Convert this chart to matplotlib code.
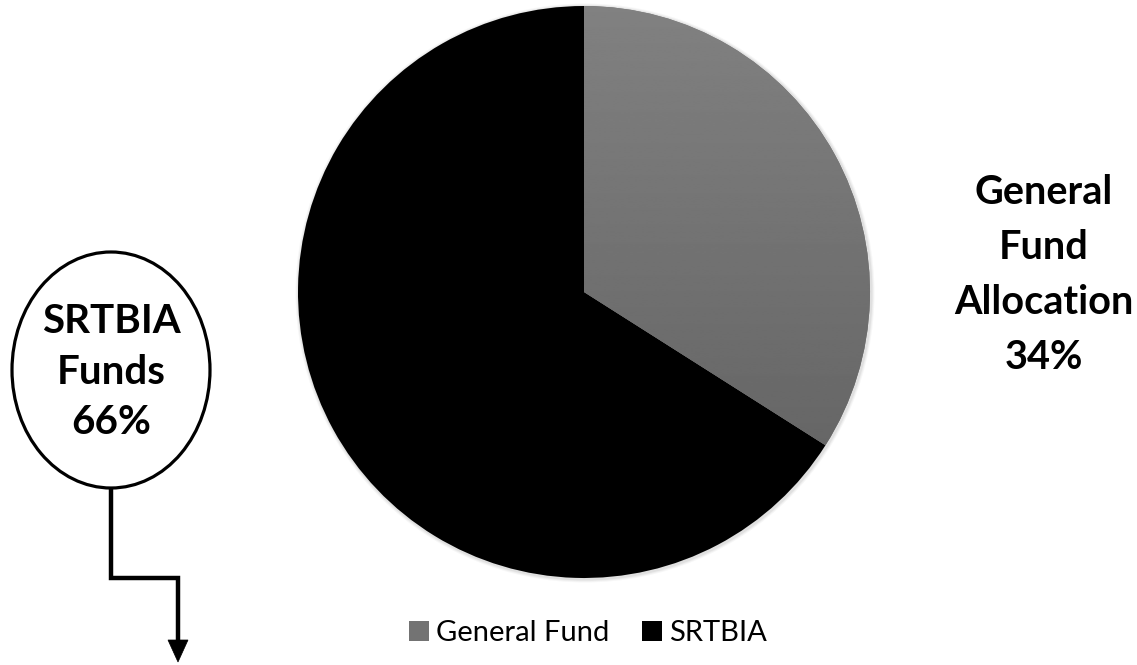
import matplotlib

matplotlib.use("Agg")
import matplotlib.pyplot as plt
import numpy as np
from matplotlib.patches import Ellipse, Patch, Polygon

plt.rcParams["font.family"] = ["Lato", "DejaVu Sans"]

labels = ["General Fund", "SRTBIA"]
shares = [34, 66]
colors = ["#737373", "#000000"]

W, H = 1137, 665
fig = plt.figure(figsize=(W / 100, H / 100), dpi=100)
ax = fig.add_axes([0, 0, 1, 1])


def py(y):
    # pixel row (from top) -> data y
    return H - y


cx, cy, r = 584, py(292), 286

# faint shadow ring behind the pie
for k, a in enumerate([0.05, 0.04, 0.03]):
    ax.add_patch(plt.Circle((cx + 1, cy - 1), r + 1.5 + k, color="black", alpha=a, lw=0, zorder=0))

wedges, _ = ax.pie(shares, colors=colors, startangle=90, counterclock=False,
                   center=(cx, cy), radius=r, frame=True,
                   wedgeprops=dict(linewidth=0))

# vertical gradient on the General Fund slice
grad = np.linspace(0.505, 0.37, 256).reshape(-1, 1)
img = ax.imshow(grad, cmap="gray", vmin=0, vmax=1, aspect="auto",
                extent=(cx - r, cx + r, cy - r, cy + r), origin="upper", zorder=2)
img.set_clip_path(wedges[0])

ax.set_xlim(0, W)
ax.set_ylim(0, H)
ax.set_aspect("equal")
ax.axis("off")

# right label
ax.text(1044, py(275), f"General\nFund\nAllocation\n{shares[0]}%", ha="center", va="center",
        fontsize=28.5, fontweight="bold", linespacing=1.6, color="black")

# left callout ellipse
ex, ey = 111, py(370)
ax.add_patch(Ellipse((ex, ey), 198, 236, facecolor="white", edgecolor="black", lw=2.3, zorder=3))
ax.text(ex, ey - 2, f"SRTBIA\nFunds\n{shares[1]}%", ha="center", va="center",
        fontsize=29, fontweight="bold", linespacing=1.45, color="black", zorder=4)

# elbow arrow
ax.plot([111, 111, 178, 178], [py(488), py(578), py(578), py(642)], color="black",
        lw=3.2, solid_joinstyle="miter", solid_capstyle="butt", zorder=3)
ax.add_patch(Polygon([(168, py(640)), (188, py(640)), (178, py(662))], closed=True,
                     facecolor="black", edgecolor="black", lw=0.5, zorder=3))

handles = [Patch(facecolor=c, edgecolor="none") for c in colors]
ax.legend(handles, labels, loc="center", bbox_to_anchor=(588 / W, 1 - 633 / H), ncol=2,
          frameon=False, fontsize=21, handlelength=0.7, handleheight=0.7,
          handletextpad=0.25, columnspacing=1.1)

fig.savefig("out.png", dpi=100)
